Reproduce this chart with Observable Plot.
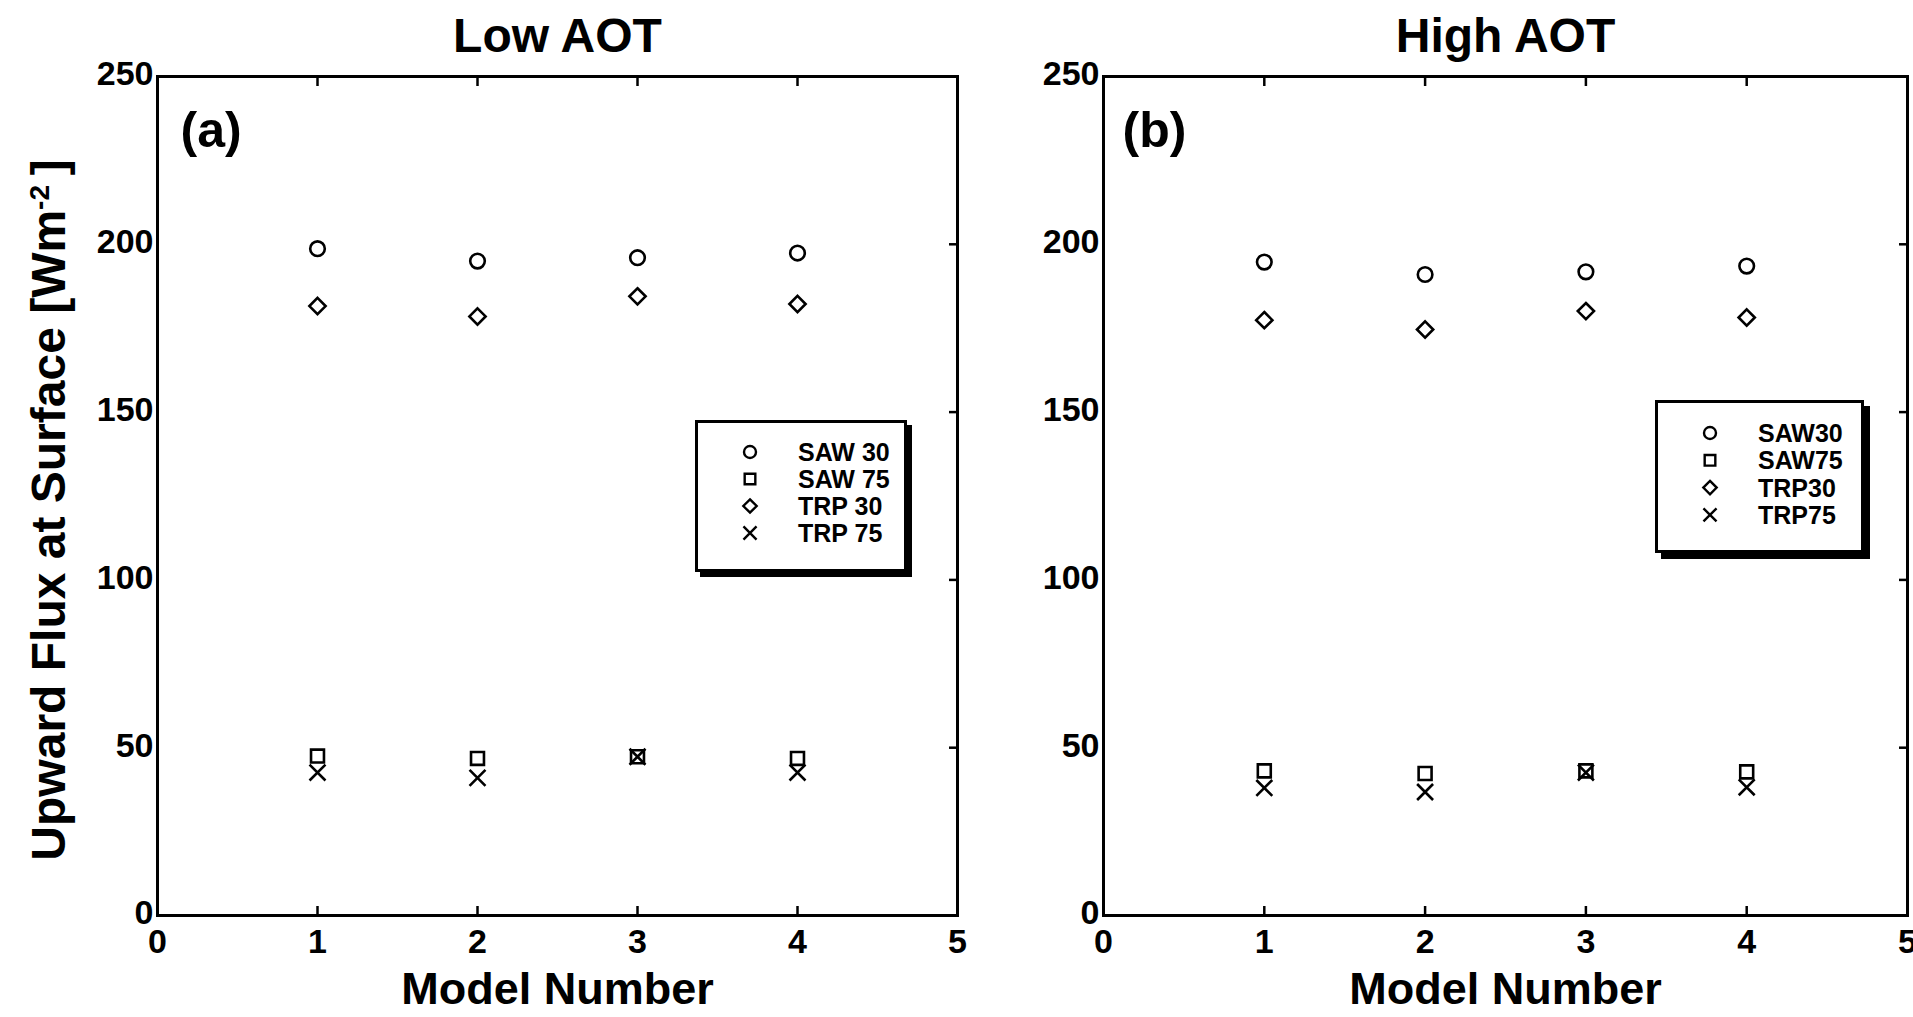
<!DOCTYPE html>
<html>
<head>
<meta charset="utf-8">
<script src="https://cdn.jsdelivr.net/npm/d3@7"></script>
<script src="https://cdn.jsdelivr.net/npm/@observablehq/plot@0.6"></script>
<style>
  html, body { margin: 0; padding: 0; background: #fff; }
  #wrap { position: relative; width: 1913px; height: 1017px; background: #fff; overflow: hidden;
          font-family: "Liberation Sans", Arial, Helvetica, sans-serif; font-weight: bold; }
  .panel { position: absolute; top: 0; }
  .legend { position: absolute; box-sizing: border-box; border: 3px solid #000; background: #fff; }
</style>
</head>
<body>
<div id="wrap"></div>
<script>
// ---- data ----
const models = [1, 2, 3, 4];

const lowSAW30 = [198.7, 195.0, 196.0, 197.4];
const lowSAW75 = [47.5, 46.8, 47.3, 46.8];
const lowTRP30 = [181.6, 178.5, 184.5, 182.2];
const lowTRP75 = [42.6, 41.0, 47.3, 42.6];

const highSAW30 = [194.7, 191.0, 191.8, 193.5];
const highSAW75 = [43.1, 42.3, 43.1, 42.8];
const highTRP30 = [177.4, 174.6, 180.1, 178.2];
const highTRP75 = [38.0, 36.8, 42.6, 38.2];

const seriesKeys = ["SAW30", "SAW75", "TRP30", "TRP75"];
const symbolNames = ["circle", "square", "diamond2", "times"];
const lowLabels = ["SAW 30", "SAW 75", "TRP 30", "TRP 75"];
const highLabels = ["SAW30", "SAW75", "TRP30", "TRP75"];

const xTicks = [0, 1, 2, 3, 4, 5];
const yTicks = [0, 50, 100, 150, 200, 250];
const innerXTicks = [1, 2, 3, 4];
const innerYTicks = [50, 100, 150, 200];

const yTitle = "Upward Flux at Surface [Wm";

function toRows(arrays) {
  const rows = [];
  arrays.forEach((vals, i) => vals.forEach((v, j) => rows.push({model: models[j], flux: v, series: seriesKeys[i]})));
  return rows;
}
const lowData = toRows([lowSAW30, lowSAW75, lowTRP30, lowTRP75]);
const highData = toRows([highSAW30, highSAW75, highTRP30, highTRP75]);

const FONT = "'Liberation Sans', Arial, Helvetica, sans-serif";

function panel({data, title, tag, width, marginLeft, marginRight, tagDx, showYTitle}) {
  const marks = [
    Plot.frame({stroke: "black", strokeWidth: 3}),
    Plot.axisX({ticks: xTicks, tickSize: 0, tickPadding: 13, fontSize: 34, label: null, tickFormat: d3.format("d")}),
    Plot.axisX({ticks: innerXTicks, tickSize: -9, strokeWidth: 2.5, tickFormat: () => "", label: null}),
    Plot.axisX({anchor: "top", ticks: innerXTicks, tickSize: -9, strokeWidth: 2.5, tickFormat: () => "", label: null}),
    Plot.axisY({ticks: yTicks, tickSize: 0, tickPadding: 4, fontSize: 34, dy: -2, label: null, tickFormat: d3.format("d")}),
    Plot.axisY({anchor: "right", ticks: innerYTicks, tickSize: -9, strokeWidth: 2.5, tickFormat: () => "", label: null}),
    Plot.dot(data, {x: "model", y: "flux", symbol: "series", r: 7.3, stroke: "black", strokeWidth: 2.6, fill: "none"}),
    Plot.text([title], {text: d => d, frameAnchor: "top", lineAnchor: "middle", dy: -40, fontSize: 48, fontWeight: "bold"}),
    Plot.text([tag], {text: d => d, frameAnchor: "top-left", lineAnchor: "middle", textAnchor: "start", dx: tagDx, dy: 54, fontSize: 50, fontWeight: "bold"}),
    Plot.text(["Model Number"], {text: d => d, frameAnchor: "bottom", lineAnchor: "middle", dy: 74, fontSize: 45, fontWeight: "bold"})
  ];
  if (showYTitle) {
    marks.push(Plot.text([yTitle], {text: d => d, frameAnchor: "left", lineAnchor: "middle", rotate: -90, textAnchor: "middle",
      dx: -108, dy: 14, fontSize: 48, fontWeight: "bold"}));
  }
  return Plot.plot({
    width, height: 1017,
    marginLeft, marginRight, marginTop: 76, marginBottom: 102,
    x: {domain: [0, 5]},
    y: {domain: [0, 250]},
    symbol: {domain: seriesKeys, range: symbolNames},
    style: {fontFamily: FONT, fontWeight: "bold", color: "black", background: "transparent", overflow: "visible"},
    marks
  });
}

const wrap = document.getElementById("wrap");

const chartB = panel({data: highData, title: "High AOT", tag: "(b)", width: 953, marginLeft: 143, marginRight: 6, tagDx: 19, showYTitle: false});
chartB.classList.add("panel");
chartB.style.left = "960px";
wrap.appendChild(chartB);

const chartA = panel({data: lowData, title: "Low AOT", tag: "(a)", width: 960, marginLeft: 157, marginRight: 3, tagDx: 23, showYTitle: true});
chartA.classList.add("panel");
chartA.style.left = "0px";
wrap.appendChild(chartA);

// superscript on the y title
d3.select(chartA).selectAll("text").filter(function() { return this.textContent === yTitle; })
  .each(function() {
    const t = d3.select(this);
    t.append("tspan").attr("dy", -16).attr("font-size", 28).text("-2");
    t.append("tspan").attr("dy", 16).text("\u2009]");
  });

// legends
function legend({labels, left, top, w, h, rowTop, rowStep, shadow}) {
  const box = document.createElement("div");
  box.className = "legend";
  Object.assign(box.style, {left: left + "px", top: top + "px", width: w + "px", height: h + "px",
    boxShadow: `${shadow}px ${shadow}px 0 #000`});
  const svg = d3.create("svg").attr("width", w).attr("height", h)
    .style("position", "absolute").style("left", "-3px").style("top", "-3px").style("overflow", "visible");
  const sym = {circle: d3.symbolCircle, square: d3.symbolSquare, diamond2: d3.symbolDiamond2, times: d3.symbolTimes};
  labels.forEach((lab, i) => {
    const cy = rowTop + i * rowStep;
    svg.append("path").attr("transform", `translate(55,${cy})`)
      .attr("d", d3.symbol(sym[symbolNames[i]], Math.PI * 36)())
      .attr("fill", "none").attr("stroke", "black").attr("stroke-width", 2.4);
    svg.append("text").attr("x", 103).attr("y", cy).attr("dy", "0.36em")
      .attr("font-family", FONT).attr("font-weight", "bold").attr("font-size", 25).text(lab);
  });
  box.appendChild(svg.node());
  wrap.appendChild(box);
}
legend({labels: lowLabels, left: 695, top: 420, w: 212, h: 152, rowTop: 32, rowStep: 27, shadow: 5});
legend({labels: highLabels, left: 1655, top: 400, w: 209, h: 153, rowTop: 33, rowStep: 27.3, shadow: 6});
</script>
</body>
</html>
